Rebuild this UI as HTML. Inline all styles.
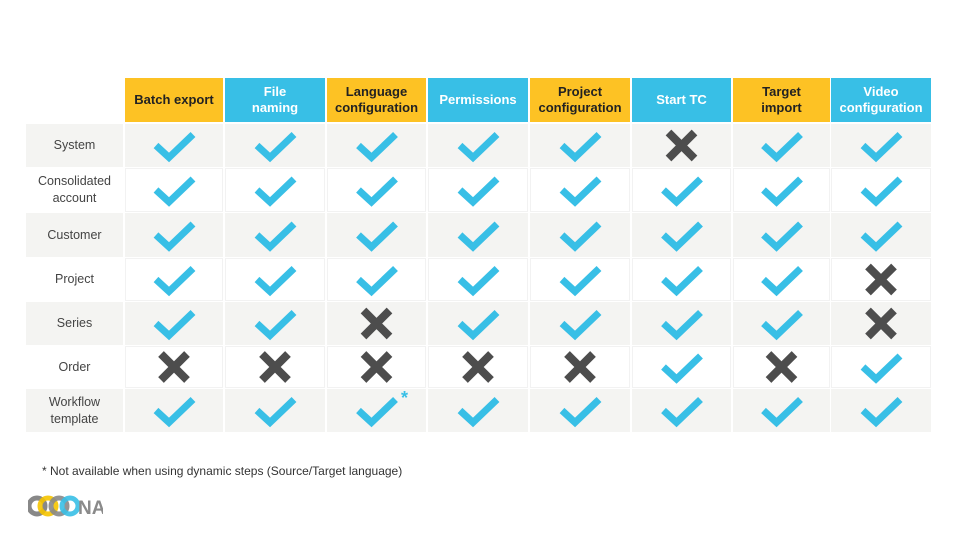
<!DOCTYPE html>
<html><head><meta charset="utf-8"><style>
body{margin:0;width:960px;height:540px;background:#fff;position:relative;overflow:hidden;font-family:"Liberation Sans",sans-serif}
.h{position:absolute;top:78px;height:44px;display:flex;align-items:center;justify-content:center;text-align:center;font-weight:bold;font-size:13px;line-height:16px}
.y{background:#FDC224;color:#222}.b{background:#38BFE6;color:#fff}
.l{position:absolute;left:26px;width:97px;display:flex;align-items:center;justify-content:center;text-align:center;font-size:12.5px;line-height:17px;color:#444}
.c{position:absolute;box-sizing:border-box}
#note{position:absolute;left:42px;top:464px;font-size:12px;color:#333}
</style></head><body>
<div class="h y" style="left:125px;width:98px">Batch export</div>
<div class="h b" style="left:225px;width:100px">File<br>naming</div>
<div class="h y" style="left:327px;width:99px">Language<br>configuration</div>
<div class="h b" style="left:428px;width:100px">Permissions</div>
<div class="h y" style="left:530px;width:100px">Project<br>configuration</div>
<div class="h b" style="left:632px;width:99px">Start TC</div>
<div class="h y" style="left:733px;width:97px">Target<br>import</div>
<div class="h b" style="left:831px;width:100px">Video<br>configuration</div>
<div id="cells"></div>
<div class="l" style="top:124px;height:43px;background:#f4f4f2">System</div>
<div class="l" style="top:168px;height:44px">Consolidated<br>account</div>
<div class="l" style="top:213px;height:44px;background:#f4f4f2">Customer</div>
<div class="l" style="top:258px;height:43px">Project</div>
<div class="l" style="top:302px;height:43px;background:#f4f4f2">Series</div>
<div class="l" style="top:346px;height:42px">Order</div>
<div class="l" style="top:389px;height:43px;background:#f4f4f2">Workflow<br>template</div>
<div style="position:absolute;left:401px;top:388px;color:#38BFE6;font-size:18px;font-weight:bold">*</div>
<div id="note">* Not available when using dynamic steps (Source/Target language)</div>
<svg style="position:absolute;left:28px;top:495px" width="75" height="22">
<circle cx="9" cy="11" r="8" fill="none" stroke="#888" stroke-width="5"/><circle cx="20" cy="11" r="8" fill="none" stroke="#f5c400" stroke-width="5" opacity=".9"/>
<circle cx="31" cy="11" r="8" fill="none" stroke="#888" stroke-width="5" opacity=".9"/><circle cx="42" cy="11" r="8" fill="none" stroke="#38BFE6" stroke-width="5" opacity=".9"/>
<text x="50" y="19" font-family="Liberation Sans" font-weight="bold" font-size="19" fill="#8a8a8a">NA</text></svg>
<svg id="ic" style="position:absolute;left:0;top:0" width="960" height="540"></svg>
<script>
var cols=[[125,98],[225,100],[327,99],[428,100],[530,100],[632,99],[733,97],[831,100]];
var rows=[[124,43],[168,44],[213,44],[258,43],[302,43],[346,42],[389,43]];
var X={"0,5":1,"3,7":1,"4,2":1,"4,7":1,"5,0":1,"5,1":1,"5,2":1,"5,3":1,"5,4":1,"5,6":1};
var h="",s="";
rows.forEach(function(r,i){cols.forEach(function(c,j){
h+='<div class="c" style="left:'+c[0]+'px;top:'+r[0]+'px;width:'+c[1]+'px;height:'+r[1]+'px;background:'+(i%2?'#fff':'#f4f4f2')+';border:1px solid '+(i%2?'#f2f2f2':'#f4f4f2')+'"></div>';
var cx=c[0]+c[1]/2,cy=r[0]+r[1]/2;
if(X[i+","+j]) s+='<path d="M'+(cx-13)+' '+(cy-13)+'L'+(cx+13)+' '+(cy+13)+'M'+(cx+13)+' '+(cy-13)+'L'+(cx-13)+' '+(cy+13)+'" stroke="#4d4d4d" stroke-width="8"/>';
else s+='<path d="M'+(cx-18)+' '+(cy)+'L'+(cx-5)+' '+(cy+12)+'L'+(cx+19)+' '+(cy-11)+'" stroke="#38BFE6" stroke-width="7" fill="none" stroke-linejoin="miter"/>';
});});
document.getElementById("cells").innerHTML=h;document.getElementById("ic").innerHTML=s;
</script>
</body></html>
